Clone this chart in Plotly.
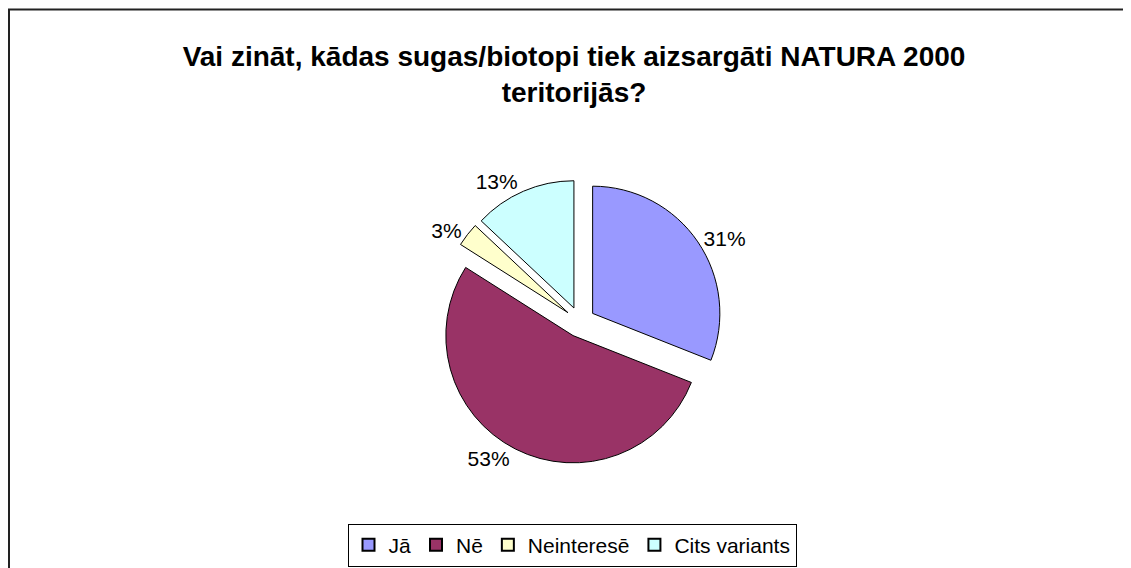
import plotly.graph_objects as go

categories = ["Jā", "Nē", "Neinteresē", "Cits variants"]
values = [31, 53, 3, 13]
colors = ["#9999FF", "#993366", "#FFFFCC", "#CCFFFF"]
title_text = "<b>Vai zināt, kādas sugas/biotopi tiek aizsargāti NATURA 2000<br>teritorijās?</b>"

W, H = 1131, 568
OFF = 8  # page body margin offset
FONT = "Liberation Sans, Arial, sans-serif"

cx, cy, d = 580 - OFF, 322 - OFF, 285
fig = go.Figure(go.Pie(
    labels=categories,
    values=values,
    sort=False,
    direction="clockwise",
    rotation=0,
    marker=dict(colors=colors, line=dict(color="black", width=1)),
    pull=[0.12, 0.12, 0.12, 0.12],
    textinfo="percent",
    textposition="outside",
    texttemplate="%{percent:.0%}",
    textfont=dict(family=FONT, size=21, color="black"),
    domain=dict(x=[(cx - d/2)/W, (cx + d/2)/W], y=[1 - (cy + d/2)/H, 1 - (cy - d/2)/H]),
    hoverinfo="label+percent",
))

fig.update_layout(
    width=W, height=H,
    margin=dict(l=0, r=0, t=0, b=0),
    paper_bgcolor="white",
    plot_bgcolor="white",
    font=dict(family=FONT, color="black"),
    title=dict(text=title_text, x=(574 - OFF)/W, xanchor="center", y=1 - (66 - OFF)/H, yanchor="middle",
               font=dict(family=FONT, size=28, color="black")),
    showlegend=True,
    legend=dict(orientation="h", x=(572 - OFF)/W, xanchor="center", y=1 - (545 - OFF)/H, yanchor="middle",
                bordercolor="black", borderwidth=1, bgcolor="white",
                font=dict(family=FONT, size=21, color="black"),
                itemwidth=30, itemsizing="constant", traceorder="normal"),
    shapes=[dict(type="rect", xref="paper", yref="paper",
                 x0=1/W, x1=1.01, y0=-0.01, y1=1 - 1.5/H,
                 line=dict(color="#222222", width=2), fillcolor="rgba(0,0,0,0)")],
)

fig.write_html("out.html")
